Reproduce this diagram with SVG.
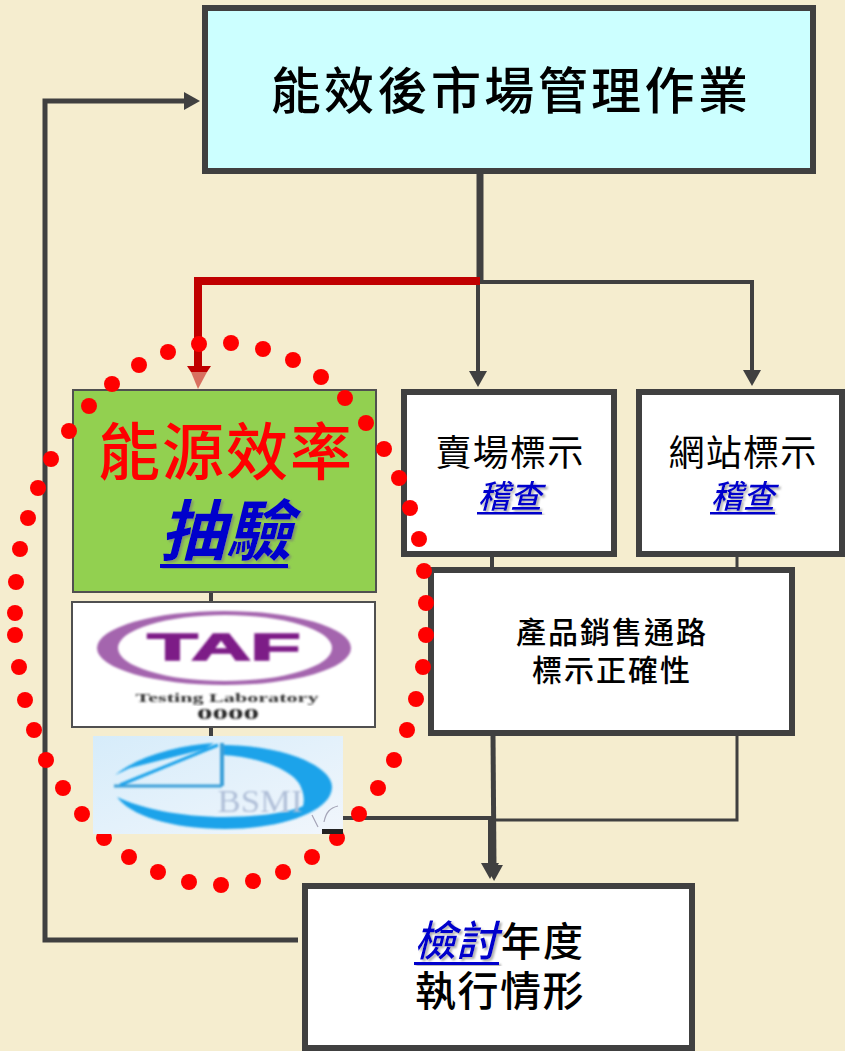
<svg xmlns="http://www.w3.org/2000/svg" width="845" height="1051" viewBox="0 0 845 1051">
<style>
.t{font-family:"Noto Sans CJK TC","Liberation Sans",sans-serif;text-anchor:middle}
.box{fill:#fff;stroke:#404040;stroke-width:6}
.thin{fill:#fff;stroke:#505050;stroke-width:2}
.c{fill:none;stroke:#404040}
.link{fill:#0000cc;font-style:italic;filter:url(#sh)}
.ul{fill:#0000cc;filter:url(#sh)}
.d{fill:#ff0000}
</style>
<defs>
<filter id="sh" x="-10%" y="-10%" width="125%" height="130%"><feDropShadow dx="2" dy="2" stdDeviation="1.2" flood-color="#777" flood-opacity=".6"/></filter>
<filter id="bl" x="-5%" y="-5%" width="110%" height="110%"><feGaussianBlur stdDeviation="0.8"/></filter>
<linearGradient id="bg" x1="0" y1="0" x2="1" y2="1"><stop offset="0" stop-color="#d6ecfa"/><stop offset="1" stop-color="#f1f6fc"/></linearGradient>
<marker id="a" markerUnits="userSpaceOnUse" markerWidth="20" markerHeight="20" refX="2" refY="9" orient="auto"><path d="M0 0L16 9L0 18z" fill="#404040"/></marker>
</defs>
<rect width="845" height="1051" fill="#f5edcf"/>
<g id="connectors">
<path class="c" stroke-width="7" d="M480 172V282"/>
<path class="c" stroke-width="4" d="M480 282H752V372" marker-end="url(#a)"/>
<path class="c" stroke-width="4" d="M478 282V373" marker-end="url(#a)"/>
<path class="c" stroke-width="5" d="M298 940H45V101H186" marker-end="url(#a)"/>
<path class="c" stroke-width="4" d="M211 592V602M211 727V737M492 555V570"/>
<path class="c" stroke-width="3" d="M737 555V570M737 735V820H494"/>
<path class="c" stroke-width="4" d="M343 818H490V865" marker-end="url(#a)"/>
<path class="c" stroke-width="5" d="M493 735L494 867" marker-end="url(#a)"/>
<path fill="none" stroke="#c00000" stroke-width="8" d="M480 281H198V368"/>
<path fill="#c00000" d="M187 366H211L207 372H191z"/>
<path fill="#d87060" d="M191 372H207L198 389z"/>
</g>
<g id="n-top"><rect class="box" x="205" y="8" width="608" height="163" style="fill:#ccffff"/>
<text class="t" x="511" y="109" font-size="50" font-weight="500" letter-spacing="3.4" fill="#000">能效後市場管理作業</text></g>
<g id="n-sample"><rect class="thin" x="73" y="390" width="303" height="202" style="fill:#92d050"/>
<text class="t" x="226" y="475" font-size="62" font-weight="500" letter-spacing="2" fill="#ff0000">能源效率</text>
<text class="t link" x="226" y="555" font-size="66" font-weight="700">抽驗</text>
<rect class="ul" x="160" y="564" width="128" height="4"/></g>
<g id="n-taf"><rect class="thin" x="72" y="602" width="303" height="125"/>
<path fill="#a465ae" fill-rule="evenodd" filter="url(#bl)" d="M97 648A127 37 0 1 0 351 648A127 37 0 1 0 97 648zM118 648A107 33 0 1 1 332 648A107 33 0 1 1 118 648z"/>
<text x="224" y="660" text-anchor="middle" font-family="Liberation Sans,sans-serif" font-weight="700" font-size="37" textLength="153" lengthAdjust="spacingAndGlyphs" fill="#7d1a87" stroke="#7d1a87" stroke-width="1.5" filter="url(#bl)">TAF</text>
<text x="227" y="702" text-anchor="middle" font-family="Liberation Serif,serif" font-weight="700" font-size="13" fill="#333" textLength="183" lengthAdjust="spacingAndGlyphs" filter="url(#bl)">Testing Laboratory</text>
<text x="228" y="719" text-anchor="middle" font-family="Liberation Serif,serif" font-weight="700" font-size="14" textLength="62" lengthAdjust="spacingAndGlyphs" fill="#222" filter="url(#bl)">0000</text></g>
<g id="n-sell"><rect class="box" x="404" y="392" width="210" height="162"/>
<text class="t" x="510" y="466" font-size="36" font-weight="400" letter-spacing="1.2" fill="#000">賣場標示</text>
<text class="t link" x="510" y="508" font-size="32" font-weight="500">稽查</text>
<rect class="ul" x="477" y="512" width="65" height="2.5"/></g>
<g id="n-web"><rect class="box" x="639" y="392" width="203" height="162"/>
<text class="t" x="743" y="466" font-size="36" font-weight="400" letter-spacing="1.2" fill="#000">網站標示</text>
<text class="t link" x="743" y="508" font-size="32" font-weight="500">稽查</text>
<rect class="ul" x="710" y="512" width="65" height="2.5"/></g>
<g id="n-channel"><rect class="box" x="431" y="570" width="361" height="163"/>
<text class="t" x="612" y="643" font-size="30" font-weight="500" letter-spacing="2" fill="#000">產品銷售通路</text>
<text class="t" x="612" y="681" font-size="30" font-weight="500" letter-spacing="2" fill="#000">標示正確性</text></g>
<g id="n-review"><rect class="box" x="305" y="886" width="387" height="162"/>
<text class="t link" x="456" y="956" font-size="42" font-weight="500">檢討</text>
<rect class="ul" x="414" y="962" width="85" height="3"/>
<text class="t" x="543" y="956" font-size="40" font-weight="500" fill="#000" letter-spacing="2">年度</text>
<text class="t" x="500" y="1006" font-size="41" font-weight="500" fill="#000" letter-spacing="1.5">執行情形</text></g>
<g id="dots">
<circle class="d" cx="69" cy="431" r="8"/><circle class="d" cx="89" cy="406" r="8"/><circle class="d" cx="112" cy="384" r="8"/><circle class="d" cx="139" cy="365" r="8"/><circle class="d" cx="168" cy="352" r="8"/><circle class="d" cx="199" cy="344" r="8"/>
<circle class="d" cx="231" cy="343" r="8"/><circle class="d" cx="263" cy="349" r="8"/><circle class="d" cx="293" cy="360" r="8"/><circle class="d" cx="321" cy="377" r="8"/><circle class="d" cx="345" cy="398" r="8"/><circle class="d" cx="366" cy="423" r="8"/><circle class="d" cx="384" cy="449" r="8"/><circle class="d" cx="399" cy="478" r="8"/><circle class="d" cx="410" cy="508" r="8"/><circle class="d" cx="419" cy="539" r="8"/>
<circle class="d" cx="424" cy="571" r="8"/><circle class="d" cx="426" cy="603" r="8"/><circle class="d" cx="426" cy="635" r="8"/><circle class="d" cx="423" cy="667" r="8"/><circle class="d" cx="416" cy="699" r="8"/><circle class="d" cx="407" cy="730" r="8"/><circle class="d" cx="394" cy="760" r="8"/><circle class="d" cx="378" cy="788" r="8"/><circle class="d" cx="359" cy="814" r="8"/>
<circle class="d" cx="337" cy="838" r="8"/><circle class="d" cx="312" cy="857" r="8"/><circle class="d" cx="283" cy="872" r="8"/><circle class="d" cx="253" cy="881" r="8"/><circle class="d" cx="221" cy="885" r="8"/><circle class="d" cx="189" cy="882" r="8"/><circle class="d" cx="158" cy="872" r="8"/><circle class="d" cx="129" cy="857" r="8"/><circle class="d" cx="104" cy="838" r="8"/><circle class="d" cx="82" cy="814" r="8"/><circle class="d" cx="63" cy="788" r="8"/><circle class="d" cx="46" cy="760" r="8"/><circle class="d" cx="34" cy="730" r="8"/><circle class="d" cx="25" cy="700" r="8"/><circle class="d" cx="19" cy="667" r="8"/><circle class="d" cx="15" cy="635" r="8"/><circle class="d" cx="15" cy="613" r="8"/><circle class="d" cx="16" cy="582" r="8"/><circle class="d" cx="20" cy="549" r="8"/><circle class="d" cx="28" cy="518" r="8"/><circle class="d" cx="38" cy="488" r="8"/><circle class="d" cx="51" cy="459" r="8"/>
</g>
<g id="n-bsmi"><rect x="93" y="736" width="250" height="98" fill="url(#bg)"/>
<g filter="url(#bl)">
<path fill="#1da3ea" d="M223 745C280 745 332 765 332 787C332 812 280 829 225 829C170 829 130 815 117 797C140 808 180 817 225 817C260 817 290 812 303 806C305 798 303 792 300 785C292 770 260 757 223 755z"/>
<path fill="#1da3ea" d="M115 775C140 755 180 745 214 743L205 749L130 768z"/>
<path fill="none" stroke="#3a9fd8" stroke-width="3" d="M114 786H222"/>
<path fill="none" stroke="#3a9fd8" stroke-width="4" d="M222 743V786"/>
<path fill="none" stroke="#1da3ea" stroke-width="3" d="M120 785L218 745"/>
</g>
<text x="260" y="812" text-anchor="middle" font-family="Liberation Serif,serif" font-size="31" textLength="85" lengthAdjust="spacingAndGlyphs" fill="#b0bfd8" filter="url(#bl)">BSMI</text>
<path d="M312 815L318 827M324 822C326 812 330 808 338 806" fill="none" stroke="#a5a5b8" stroke-width="1.2"/>
<rect x="322" y="829" width="21" height="5" fill="#222"/></g>
</svg>
